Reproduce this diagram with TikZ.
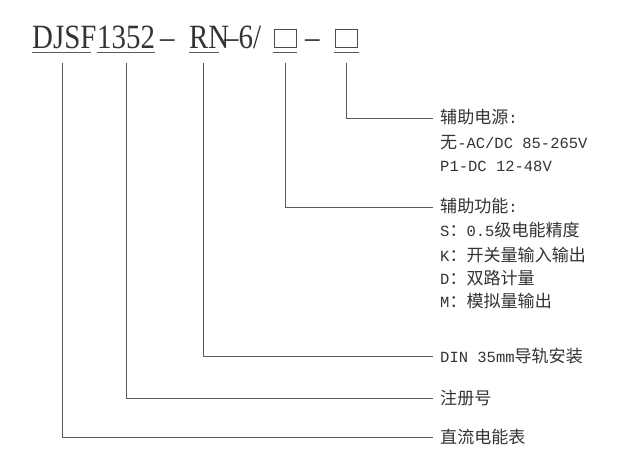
\documentclass[tikz,border=0pt]{standalone}
\usepackage{fontspec}
\setmainfont{Liberation Mono}
\newfontfamily\cjk[Scale=1.1]{Noto Sans CJK SC}
\newfontfamily\titlefont[FakeStretch=0.85]{Liberation Serif}
\definecolor{linegray}{RGB}{90,90,90}
\tikzset{
  part/.style={anchor=base west,inner sep=0pt,font=\titlefont\fontsize{34}{34}\selectfont,text=black!80},
  slot/.style={draw=black!70,line width=0.8pt,minimum width=22pt,minimum height=18pt,inner sep=0pt},
  lead/.style={draw=linegray,line width=0.7pt},
  label/.style={anchor=west,inner sep=0pt,font=\fontsize{15.5}{15.5}\selectfont,text=black!80},
}
\begin{document}
\begin{tikzpicture}[x=1pt,y=-1pt]
\useasboundingbox (0,0) rectangle (625,468);
% model code
\node[part] (djsf) at (32,49) {DJSF};
\node[part] (num) at (97,49) {1352};
\node[part] (d1) at (160,49) {–};
\node[part] (rn) at (189,49) {RN};
\node[part] (six) at (224,49) {–6/};
\node[slot] (box1) at (285,38) {};
\node[part] (d2) at (305,49) {–};
\node[slot] (box2) at (346,38) {};
% underlines
\foreach \a/\b in {32/91,97/155,189/219,273/297,334/359}
  \draw[lead] (\a,52) -- (\b,52);
% leaders
\coordinate (e5) at (433,118);
\coordinate (e4) at (433,207);
\coordinate (e3) at (433,356);
\coordinate (e2) at (433,398);
\coordinate (e1) at (433,437);
\draw[lead] (346,63) |- (e5);
\draw[lead] (285,63) |- (e4);
\draw[lead] (203,63) |- (e3);
\draw[lead] (126,63) |- (e2);
\draw[lead] (62,63) |- (e1);
% labels
\node[label] (pw) at (440,117) {{\cjk 辅助电源}:};
\node[label] at (440,143) {{\cjk 无}-AC/DC 85-265V};
\node[label] at (440,166) {P1-DC 12-48V};
\node[label] (fn) at (440,206) {{\cjk 辅助功能}:};
\node[label] at (440,230) {S{\cjk ：}0.5{\cjk 级电能精度}};
\node[label] at (440,255) {K{\cjk ：开关量输入输出}};
\node[label] at (440,278) {D{\cjk ：双路计量}};
\node[label] at (440,301) {M{\cjk ：模拟量输出}};
\node[label] (din) at (440,356) {DIN 35mm{\cjk 导轨安装}};
\node[label] (reg) at (440,398) {\cjk 注册号};
\node[label] (dc) at (440,437) {\cjk 直流电能表};
\end{tikzpicture}
\end{document}
